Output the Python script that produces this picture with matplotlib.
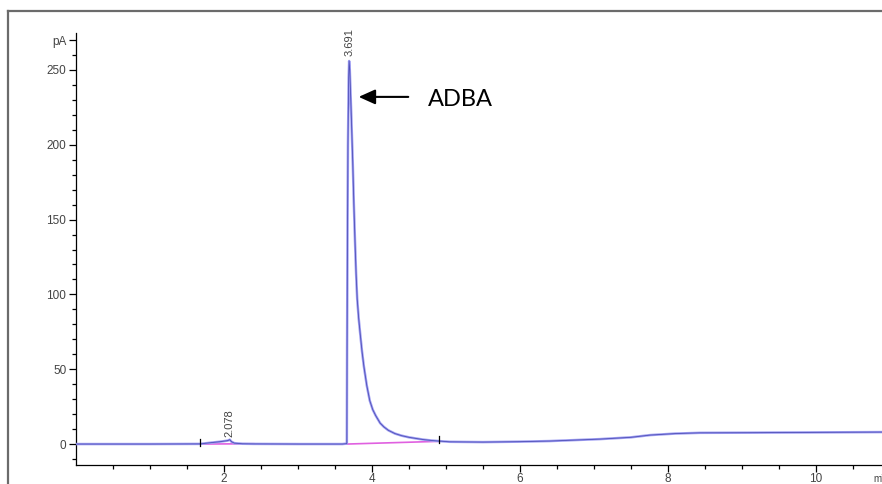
import numpy as np
import matplotlib

matplotlib.use("Agg")
import matplotlib.pyplot as plt  # noqa: E402
from matplotlib.lines import Line2D  # noqa: E402

# chromatogram trace (time in min, signal in pA)
time_min = [0.0, 1.0, 1.68, 1.80, 1.95, 2.05, 2.078, 2.10, 2.14, 2.25, 2.40, 3.0, 3.60,
            3.66, 3.663, 3.668, 3.675, 3.685, 3.691, 3.70, 3.72, 3.74, 3.755, 3.77, 3.785,
            3.80, 3.82, 3.84, 3.865, 3.89, 3.93, 3.97, 4.01, 4.05, 4.11, 4.16, 4.22,
            4.31, 4.40, 4.50, 4.60, 4.69, 4.80, 4.90, 5.05, 5.50, 6.00,
            6.40, 7.08, 7.50, 7.76, 8.10, 8.43, 9.10, 10.0, 10.9]
signal_pa = [0.0, 0.0, 0.1, 0.8, 1.6, 2.3, 2.9, 1.6, 0.6, 0.2, 0.1, 0.0, 0.0,
             0.3, 60, 130, 200, 245, 256, 250, 220, 188, 160, 136, 114,
             97, 84, 74, 62, 52, 39, 29, 23, 19, 14, 11.5, 9.2,
             7.0, 5.6, 4.5, 3.7, 3.0, 2.4, 2.0, 1.5, 1.3, 1.6,
             2.0, 3.3, 4.5, 6.0, 7.0, 7.5, 7.6, 7.8, 8.0]

# integration baselines (start, end)
base_t = [[1.68, 2.40], [3.66, 4.90]]
base_v = [[0.0, 0.2], [0.0, 1.8]]

# integration event markers
event_t = [1.68, 4.90]
event_v = [0.1, 2.0]

peak_rt = [2.078, 3.691]
peak_h = [3.4, 258.0]
peak_labels = ["2.078", "3.691"]

x_major = [2, 4, 6, 8, 10]
y_major = [0, 50, 100, 150, 200, 250, 270]
y_labels = ["0", "50", "100", "150", "200", "250", "pA"]

fig = plt.figure(figsize=(8.82, 4.84), dpi=100)
W, H = 882, 484
ax = fig.add_axes([76 / W, (H - 465) / H, 1 - 76 / W, (465 - 33) / H])

ax.plot(time_min, signal_pa, color="#a0a0f2", lw=1.8, zorder=3)
ax.plot(time_min, signal_pa, color="#3a3aa8", lw=0.6, alpha=0.8, zorder=4)
for bt, bv in zip(base_t, base_v):
    ax.plot(bt, bv, color="#e060e0", lw=1.2, zorder=2)
for et, ev in zip(event_t, event_v):
    ax.plot([et, et], [ev - 1.5, ev + 3.5], color="black", lw=0.9, zorder=5)

for rt, h, lab in zip(peak_rt, peak_h, peak_labels):
    ax.text(rt, h + 1, lab, rotation=90, ha="center", va="bottom",
            fontsize=8, color="#444444", family="Liberation Sans")

ax.annotate("", xy=(3.82, 232), xytext=(4.49, 232),
            arrowprops=dict(arrowstyle="-|>,head_length=1.0,head_width=0.45",
                            color="black", lw=1.5, shrinkA=0, shrinkB=0))
ax.text(4.76, 230, "ADBA", fontsize=17, family="Lato", ha="left", va="center")

ax.set_xlim(0, (W - 76) / 74)
ax.set_ylim(-14, 274.7)
ax.set_xticks(x_major)
ax.set_xticks(np.arange(0.5, 11, 0.5), minor=True)
ax.set_yticks(y_major)
ax.set_yticklabels(y_labels)
ax.set_yticks(np.arange(-10, 275, 10), minor=True)
ax.tick_params(axis="both", which="major", length=5, width=0.9, labelsize=8.5,
               labelcolor="#444444", pad=2)
ax.tick_params(axis="x", which="major", pad=1)
ax.tick_params(axis="both", which="minor", length=3, width=0.9)
for lab in ax.get_xticklabels() + ax.get_yticklabels():
    lab.set_family("Liberation Sans")
for side in ("top", "right"):
    ax.spines[side].set_visible(False)
for side in ("left", "bottom"):
    ax.spines[side].set_linewidth(0.9)

fig.text(873 / W, 1 - 479 / H, "min", fontsize=7, color="#444444",
         family="Liberation Sans", va="center", ha="left")

# outer frame
fig.add_artist(Line2D([8 / W, 8 / W], [0, 1 - 11 / H], color="#6b6b6b", lw=1.6,
                      transform=fig.transFigure))
fig.add_artist(Line2D([8 / W, 1.01], [1 - 11 / H, 1 - 11 / H], color="#6b6b6b",
                      lw=1.6, transform=fig.transFigure))

fig.savefig("out.png", dpi=100)
plt.close(fig)
